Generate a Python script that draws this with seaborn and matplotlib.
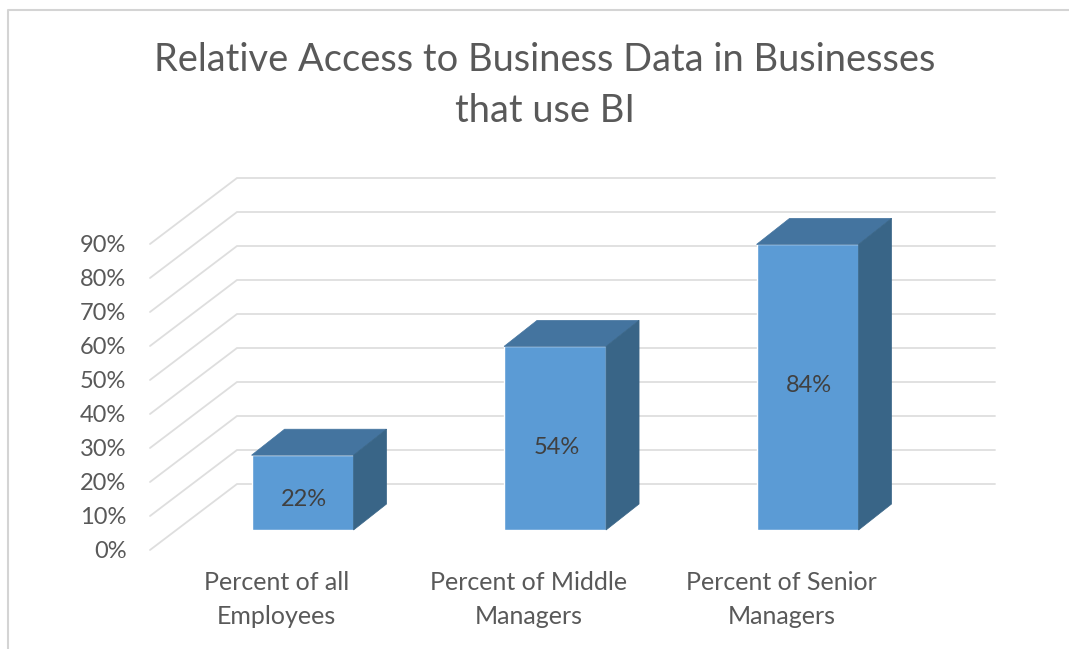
# -*- coding: utf-8 -*-
"""
Relative access to business data, column chart with excel style 3d look
"""
import pandas as pd
import matplotlib
matplotlib.use('Agg')
import matplotlib.pyplot as plt
from matplotlib.lines import Line2D
from matplotlib.patches import Polygon
import seaborn as sns

### data #####################################
categories = ['Percent of all\nEmployees', 'Percent of Middle\nManagers', 'Percent of Senior\nManagers']
access_pct = [22, 54, 84]
value_labels = ['22%', '54%', '84%']
y_ticks = [0, 10, 20, 30, 40, 50, 60, 70, 80, 90]
title = 'Relative Access to Business Data in Businesses\nthat use BI'
##############################################

W, H = 1069, 649
TEXT = '#595959'
GRID = '#DEDEDE'
FRONT = '#5B9BD5'
TOP = '#44749F'
SIDE = '#396587'

sns.set_style('white')
plt.rcParams['font.family'] = ['Lato', 'DejaVu Sans']


def px_axes(fig, left, right, top, bottom):
    return fig.add_axes([left / W, 1 - bottom / H, (right - left) / W, (bottom - top) / H])


fig = plt.figure(figsize=(W / 100, H / 100), dpi=100)

# axes for the front edge of the floor: ticks and labels live here
ax_wall = px_axes(fig, 150, 908, 244, 550)
step_x = 758 / 3
step_y = 306 / 90
ax_wall.set_xlim(-0.5, 2.5)
ax_wall.set_ylim(0, 90)
ax_wall.set_yticks(y_ticks)
ax_wall.set_yticklabels([str(v) + '%' for v in y_ticks], color=TEXT, fontsize=17)
ax_wall.set_xticks(range(len(categories)))
ax_wall.set_xticklabels(categories, color=TEXT, fontsize=18, linespacing=1.58)
ax_wall.tick_params(axis='y', length=0, pad=17)
ax_wall.tick_params(axis='x', length=0, pad=15)
sns.despine(ax=ax_wall, left=True, bottom=True, top=True, right=True)

# gridlines go back along the side wall, then across the back wall
wall_dx = 87 / step_x
wall_dy = 66 / step_y
for v in y_ticks:
    ax_wall.plot([-0.5, -0.5 + wall_dx, 2.5 + wall_dx], [v, v + wall_dy, v + wall_dy],
                 color=GRID, lw=1.3, clip_on=False, solid_joinstyle='miter')

# axes for the plane the column fronts stand in
ax = px_axes(fig, 176.3, 933.8, 190, 530)
ax.patch.set_alpha(0)
df = pd.DataFrame({'category': categories, 'access': access_pct})
sns.barplot(data=df, x='category', y='access', ax=ax, color=FRONT, saturation=1, width=0.404)
ax.set_xlim(-0.5, 2.5)
ax.set_ylim(0, 100)
ax.axis('off')

bar_dx = 33 / 252.5
bar_dy = 26 / 3.4
for bar in ax.patches:
    x0 = bar.get_x()
    x1 = x0 + bar.get_width()
    h = bar.get_height()
    ax.add_patch(Polygon([(x0, h), (x1, h), (x1 + bar_dx, h + bar_dy), (x0 + bar_dx, h + bar_dy)],
                         facecolor=TOP, edgecolor=TOP, lw=0.5, clip_on=False))
    ax.add_patch(Polygon([(x1, 0), (x1, h), (x1 + bar_dx, h + bar_dy), (x1 + bar_dx, bar_dy)],
                         facecolor=SIDE, edgecolor=SIDE, lw=0.5, clip_on=False))

labels = ax.bar_label(ax.containers[0], labels=value_labels, label_type='center',
                      color='#404040', fontsize=17)
# excel puts these a bit off the middle of the column
for t, nudge in zip(labels, [-5, -7, 1]):
    t.xyann = (1, nudge)

fig.text(545 / W, 1 - 85.5 / H, title, ha='center', va='center', color=TEXT, fontsize=27.4, linespacing=1.52)

# frame of the pasted chart
fig.add_artist(Line2D([8 / W, 8 / W, 1], [0, 1 - 10 / H, 1 - 10 / H], color='#D4D4D4', lw=1.5))

plt.savefig('out.png', dpi=100)
